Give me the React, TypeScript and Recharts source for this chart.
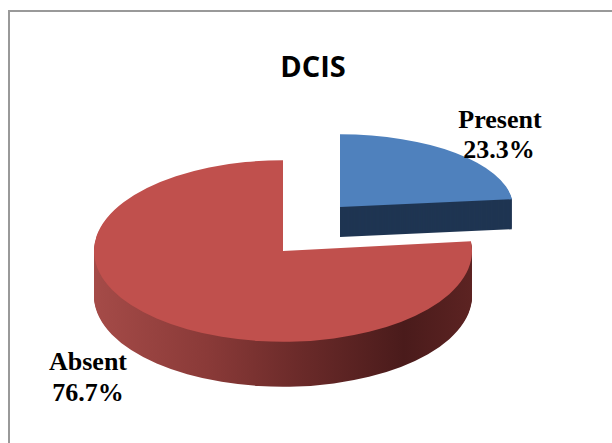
import { PieChart, Pie, Cell } from 'recharts'

// DCIS share of cases
const categories = ['Present', 'Absent']
const shares = [23.3, 76.7]
const topColors = ['#4F81BD', '#C0504D']
const sideColors = ['#1F3552', 'url(#absentSide)']
const title = 'DCIS'

const rows = categories.map((name, i) => ({ name, value: shares[i] }))

// one extruded slice: a stack of identical pies, each shifted down by 1px on screen
function sliceStack(
  key: string,
  sliceIndex: number,
  cx: number,
  cy: number,
  scale: number,
  radius: number,
  depth: number,
) {
  const pies = []
  for (let d = depth; d >= 0; d--) {
    pies.push(
      <Pie
        key={`${key}-${d}`}
        data={rows}
        dataKey="value"
        nameKey="name"
        cx={cx}
        cy={cy + d / scale}
        innerRadius={0}
        outerRadius={radius}
        startAngle={90}
        endAngle={-270}
        stroke="none"
        label={false}
        labelLine={false}
        isAnimationActive={false}
      >
        {rows.map((_, i) => (
          <Cell
            key={i}
            stroke="none"
            fill={i === sliceIndex ? (d === 0 ? topColors[i] : sideColors[i]) : 'transparent'}
          />
        ))}
      </Pie>,
    )
  }
  return pies
}

const BLUE_SCALE = 0.42
const RED_SCALE = 0.48

export default function App() {
  const labelStyle = {
    fontFamily: '"Liberation Serif", "Times New Roman", serif',
    fontWeight: 700,
    fontSize: 26,
    fill: '#000',
  }
  return (
    <div style={{ position: 'relative', width: 612, height: 443, overflow: 'hidden', background: '#fff' }}>
      <style>{'body{margin:0}'}</style>
      <svg width={0} height={0} style={{ position: 'absolute' }}>
        <defs>
          <linearGradient id="absentSide" x1="0" y1="0" x2="1" y2="0">
            <stop offset="0" stopColor="#a54b48" />
            <stop offset="0.3" stopColor="#8a3a38" />
            <stop offset="0.55" stopColor="#6a2a29" />
            <stop offset="0.82" stopColor="#4a1b1b" />
            <stop offset="1" stopColor="#5c2322" />
          </linearGradient>
        </defs>
      </svg>

      <div
        style={{
          position: 'absolute',
          left: 8,
          top: 10,
          width: 640,
          height: 460,
          borderTop: '2px solid #999',
          borderLeft: '2px solid #999',
        }}
      />

      <div
        style={{
          position: 'absolute',
          left: 0,
          top: 0,
          transform: `scaleY(${BLUE_SCALE})`,
          transformOrigin: '0 0',
        }}
      >
        <PieChart width={612} height={Math.ceil(443 / BLUE_SCALE)} margin={{ top: 0, right: 0, bottom: 0, left: 0 }}>
          {sliceStack('present', 0, 340, 207 / BLUE_SCALE, BLUE_SCALE, 173, 30)}
        </PieChart>
      </div>

      <div
        style={{
          position: 'absolute',
          left: 0,
          top: 0,
          transform: `scaleY(${RED_SCALE})`,
          transformOrigin: '0 0',
        }}
      >
        <PieChart width={612} height={Math.ceil(443 / RED_SCALE)} margin={{ top: 0, right: 0, bottom: 0, left: 0 }}>
          {sliceStack('absent', 1, 283, 251 / RED_SCALE, RED_SCALE, 189, 45)}
        </PieChart>
      </div>

      <svg width={612} height={443} style={{ position: 'absolute', left: 0, top: 0 }}>
        <text
          x={313}
          y={77}
          textAnchor="middle"
          style={{ fontFamily: '"Open Sans", sans-serif', fontWeight: 700, fontSize: 29, fill: '#000' }}
        >
          {title}
        </text>
        <text x={500} y={128} textAnchor="middle" style={labelStyle}>
          {categories[0]}
        </text>
        <text x={499} y={158} textAnchor="middle" style={labelStyle}>
          {`${shares[0].toFixed(1)}%`}
        </text>
        <text x={88} y={370} textAnchor="middle" style={labelStyle}>
          {categories[1]}
        </text>
        <text x={88} y={401} textAnchor="middle" style={labelStyle}>
          {`${shares[1].toFixed(1)}%`}
        </text>
      </svg>
    </div>
  )
}
